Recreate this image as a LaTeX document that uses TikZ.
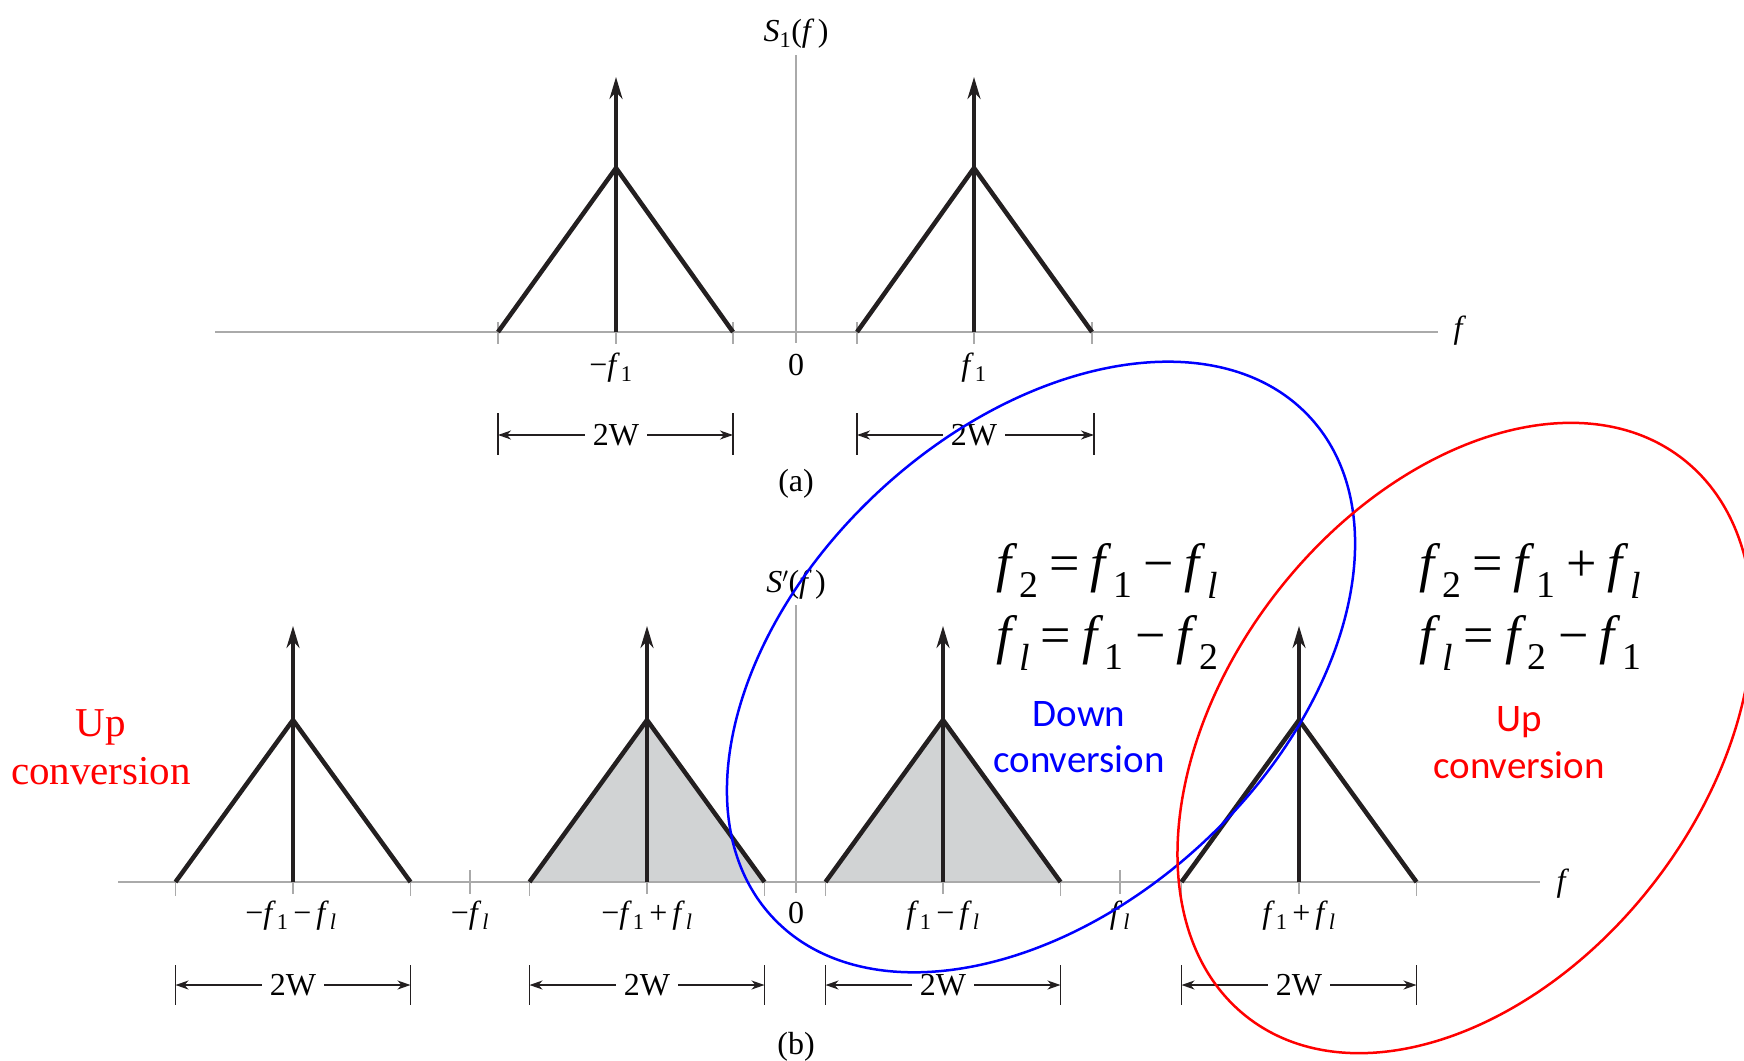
\documentclass[tikz,border=0pt]{standalone}
\usepackage{fontspec}
\setmainfont{Liberation Serif}
\newfontfamily\calib{Carlito}
\usetikzlibrary{arrows.meta}
\definecolor{axisgray}{RGB}{170,170,170}
\definecolor{ink}{RGB}{35,31,32}
\definecolor{trishade}{RGB}{209,211,212}
\definecolor{pureblue}{RGB}{0,0,255}
\definecolor{purered}{RGB}{255,0,0}
\newcommand\myf[1]{\textit{f}\kern0.03em\textsubscript{#1}}
\newcommand\myl{\textit{l}}
\newcommand\eqsp{\hspace{0.2em}}
\begin{document}
\begin{tikzpicture}[x=1pt,y=-1pt,
  axisline/.style={axisgray,line width=1.8pt},
  tickline/.style={axisgray,line width=1.3pt},
  tri/.style={ink,line width=4.5pt,line join=miter},
  imp/.style={ink,line width=3.2pt,-{Stealth[length=22pt,width=13pt,inset=7pt]}},
  dimbar/.style={ink,line width=1.8pt},
  dimarr/.style={ink,line width=1.5pt,-{Stealth[length=13pt,width=9pt,inset=4pt]}},
  lbl/.style={font=\fontsize{32}{36}\selectfont,inner sep=0pt},
  dimlbl/.style={font=\fontsize{32}{36}\selectfont,inner xsep=8pt,inner ysep=0pt},
  eq/.style={font=\fontsize{54}{60}\selectfont,inner sep=0pt,anchor=base west},
  ell/.style={line width=2.5pt},
]
\clip (0,0) rectangle (1744,1060);
% ---------------- top panel (a)
\def\ya{332}
\draw[axisline] (215,\ya) -- (1438,\ya);
\draw[axisline] (796,55) -- (796,343);
\foreach \x in {498,733,857,1092} \draw[tickline] (\x,\ya-10) -- (\x,\ya+12);
\foreach \x in {616,974} \draw[tickline] (\x,\ya) -- (\x,\ya+12);
\draw[tri] (498,\ya) -- (616,168) -- (733,\ya);
\draw[tri] (857,\ya) -- (974,168) -- (1092,\ya);
\draw[imp] (616,\ya) -- (616,77);
\draw[imp] (974,\ya) -- (974,77);
\node[lbl,anchor=base] (tS) at (796,41) {\textit{S}\textsubscript{1}(\textit{f}\kern0.1em)};
\node[lbl] (tf) at (1460,331) {\textit{f}};
\node[lbl,anchor=base] (tm1) at (611,375) {−\myf{1}};
\node[lbl,anchor=base] (t0) at (796,375) {0};
\node[lbl,anchor=base] (tp1) at (974,375) {\myf{1}};
% dimension lines (a)
\foreach \l/\c/\r/\n in {498/616/733/da1, 857/974/1094/da2}{
  \draw[dimbar] (\l,413) -- (\l,455);
  \draw[dimbar] (\r,413) -- (\r,455);
  \coordinate (\n l) at (\l,435);
  \coordinate (\n r) at (\r,435);
  \node[dimlbl] (\n) at (\c,435) {2W};
  \draw[dimarr] (\n.west) -- (\n l);
  \draw[dimarr] (\n.east) -- (\n r);
}
\node[lbl] (capa) at (796,484) {(a)};
% ---------------- bottom panel (b)
\def\yb{882}
\fill[trishade] (529.5,\yb) -- (647,720) -- (764.5,\yb) -- cycle;
\fill[trishade] (825.5,\yb) -- (943,720) -- (1060.5,\yb) -- cycle;
\draw[axisline] (118,\yb) -- (1540,\yb);
\draw[axisline] (796,605) -- (796,893);
\foreach \x in {175.5,410.5,529.5,764.5,825.5,1060.5,1181.5,1416.5} \draw[tickline] (\x,\yb-4) -- (\x,\yb+14);
\foreach \x in {470,1120} \draw[tickline] (\x,\yb-12) -- (\x,\yb+12);
\foreach \x in {293,647,943,1299} \draw[tickline] (\x,\yb) -- (\x,\yb+12);
\foreach \c in {293,647,943,1299}{
  \draw[tri] (\c-117.5,\yb) -- (\c,720) -- (\c+117.5,\yb);
  \draw[imp] (\c,\yb) -- (\c,626);
}
\node[lbl,anchor=base] (bS) at (796,592) {\textit{S}$'$(\textit{f}\kern0.1em)};
\node[lbl] (bf) at (1563,884) {\textit{f}};
\node[lbl,anchor=base] (b1) at (291,923) {−\myf{1}\kern0.15em−\kern0.15em\myf{\myl}};
\node[lbl,anchor=base] (b2) at (470,923) {−\myf{\myl}};
\node[lbl,anchor=base] (b3) at (647,923) {−\myf{1}\kern0.15em+\kern0.15em\myf{\myl}};
\node[lbl,anchor=base] (b4) at (796,923) {0};
\node[lbl,anchor=base] (b5) at (943,923) {\myf{1}\kern0.15em−\kern0.15em\myf{\myl}};
\node[lbl,anchor=base] (b6) at (1120,923) {\myf{\myl}};
\node[lbl,anchor=base] (b7) at (1299,923) {\myf{1}\kern0.15em+\kern0.15em\myf{\myl}};
\foreach \c/\n in {293/db1, 647/db2, 943/db3, 1299/db4}{
  \draw[dimbar] (\c-117.5,965) -- (\c-117.5,1005);
  \draw[dimbar] (\c+117.5,965) -- (\c+117.5,1005);
  \coordinate (\n l) at (\c-117.5,985);
  \coordinate (\n r) at (\c+117.5,985);
  \node[dimlbl] (\n) at (\c,985) {2W};
  \draw[dimarr] (\n.west) -- (\n l);
  \draw[dimarr] (\n.east) -- (\n r);
}
\node[lbl] (capb) at (796,1047) {(b)};
% ---------------- annotations
\node[purered,font=\fontsize{41}{48}\selectfont,inner sep=0pt,anchor=base] (lu1) at (101,736) {Up};
\node[purered,font=\fontsize{41}{48}\selectfont,inner sep=0pt,anchor=base] (lu2) at (101,784) {conversion};
\node[pureblue,font=\calib\fontsize{39}{46}\selectfont,inner sep=0pt,anchor=base] (dn1) at (1079,726) {Down};
\node[pureblue,font=\calib\fontsize{39}{46}\selectfont,inner sep=0pt,anchor=base] (dn2) at (1079,772) {conversion};
\node[purered,font=\calib\fontsize{39}{46}\selectfont,inner sep=0pt,anchor=base] (ru1) at (1519,731) {Up};
\node[purered,font=\calib\fontsize{39}{46}\selectfont,inner sep=0pt,anchor=base] (ru2) at (1519,778) {conversion};
\node[eq] (e1) at (996,581) {\myf{2}\eqsp=\eqsp\myf{1}\eqsp−\eqsp\myf{\myl}};
\node[eq] (e2) at (996,653) {\myf{\myl}\eqsp=\eqsp\myf{1}\eqsp−\eqsp\myf{2}};
\node[eq] (e3) at (1419,581) {\myf{2}\eqsp=\eqsp\myf{1}\eqsp+\eqsp\myf{\myl}};
\node[eq] (e4) at (1419,653) {\myf{\myl}\eqsp=\eqsp\myf{2}\eqsp−\eqsp\myf{1}};
% ellipses
\draw[ell,pureblue,rotate around={43:(1041,667)}] (1041,667) ellipse [x radius=367pt, y radius=239pt];
\draw[ell,purered,rotate around={52:(1465,738)}] (1465,738) ellipse [x radius=354pt, y radius=238pt];
\end{tikzpicture}
\end{document}
